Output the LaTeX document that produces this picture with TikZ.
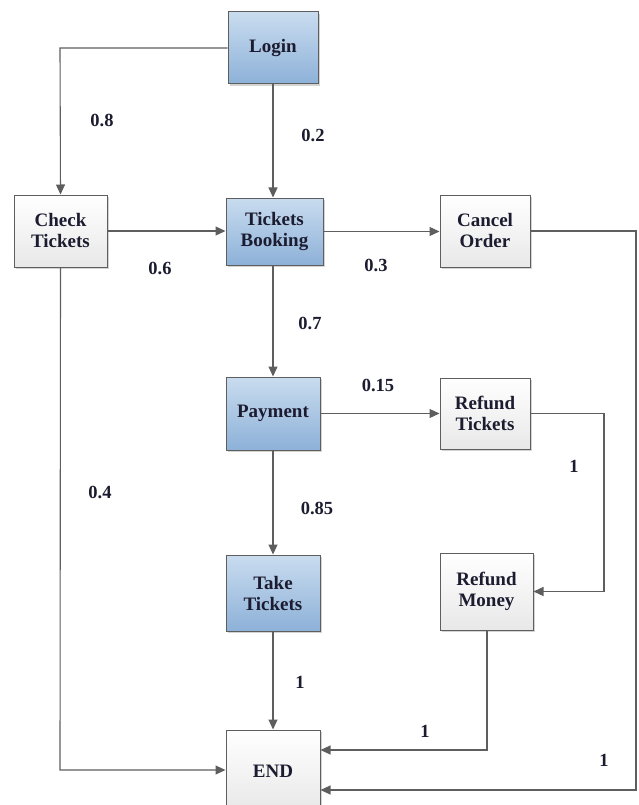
\documentclass[tikz,border=0pt]{standalone}
\usepackage{fontspec}
\setmainfont{Liberation Serif}
\usetikzlibrary{arrows.meta,shadows}
\definecolor{lineg}{HTML}{5E5E5E}
\definecolor{bluetop}{HTML}{C9DCEF}
\definecolor{bluebot}{HTML}{8DB1D8}
\definecolor{txt}{HTML}{1C1C30}
\tikzset{
  x=1pt,y=-1pt,
  box/.style={draw=lineg,line width=1pt,minimum width=#1,align=center,inner sep=0pt,
    font=\fontsize{19}{21}\selectfont\bfseries,text=txt,
    drop shadow={shadow xshift=2pt,shadow yshift=-2pt,fill=gray,opacity=0.35}},
  bluebox/.style={box=#1,top color=bluetop,bottom color=bluebot},
  whitebox/.style={box=#1,top color=white,bottom color=gray!18},
  conn/.style={draw=lineg,line width=1.1pt,-{Triangle[length=10pt,width=9pt]}},
  lab/.style={font=\fontsize{18.5}{20}\selectfont\bfseries,text=txt}
}
\begin{document}
\begin{tikzpicture}
\useasboundingbox (0,0) rectangle (639,805);
\clip (0,0) rectangle (639,805);
\node[bluebox=90pt,minimum height=72pt] (login) at (273,48) {Login};
\node[whitebox=93pt,minimum height=72pt] (check) at (60.5,231) {Check\\Tickets};
\node[bluebox=97pt,minimum height=67pt] (book) at (274.5,231.5) {Tickets\\Booking};
\node[whitebox=90pt,minimum height=72pt] (cancel) at (485,231) {Cancel\\Order};
\node[bluebox=94pt,minimum height=73pt] (pay) at (273,413.5) {Payment};
\node[whitebox=90pt,minimum height=71pt] (rtick) at (485,413.5) {Refund\\Tickets};
\node[bluebox=94pt,minimum height=76pt] (take) at (273,593) {Take\\Tickets};
\node[whitebox=93pt,minimum height=77pt] (rmoney) at (486.5,591.5) {Refund\\Money};
\node[whitebox=94pt,minimum height=82pt,text depth=0pt] (end) at (273,771) {END};

\coordinate (c1) at (60,48);
\coordinate (c2) at (604,413.5);
\coordinate (c3) at (604,591.5);
\coordinate (c4) at (487,750);
\coordinate (c5) at (636,231);
\coordinate (c6) at (636,790);
\coordinate (c7) at (60,770);

\draw[conn] (login.west) -- (c1) -- (check.north);
\draw[conn] (login.south) -- (login.south |- book.north);
\draw[conn] (check.east) -- (check.east -| book.west);
\draw[conn] (book.east) -- (book.east -| cancel.west);
\draw[conn] (book.south -| pay.north) -- (pay.north);
\draw[conn] (pay.east) -- (pay.east -| rtick.west);
\draw[conn] (pay.south) -- (take.north);
\draw[conn] (rtick.east) -- (c2) -- (c3) -- (rmoney.east);
\draw[conn] (take.south) -- (end.north);
\draw[conn] (rmoney.south -| c4) -- (c4) -- (c4 -| end.east);
\draw[conn] (cancel.east) -- (c5) -- (c6) -- (c6 -| end.east);
\draw[conn] (check.south) -- (c7) -- (c7 -| end.west);

\node[lab] (l08) at (102,120) {0.8};
\node[lab] (l02) at (313,135) {0.2};
\node[lab] (l06) at (160,268) {0.6};
\node[lab] (l03) at (376,265) {0.3};
\node[lab] (l07) at (310,323) {0.7};
\node[lab] (l015) at (378,385) {0.15};
\node[lab] (l085) at (317,508) {0.85};
\node[lab] (l1a) at (574,466) {1};
\node[lab] (l1b) at (300,682) {1};
\node[lab] (l1c) at (425,731) {1};
\node[lab] (l1d) at (604,760) {1};
\node[lab] (l04) at (100,492) {0.4};
\end{tikzpicture}
\end{document}
